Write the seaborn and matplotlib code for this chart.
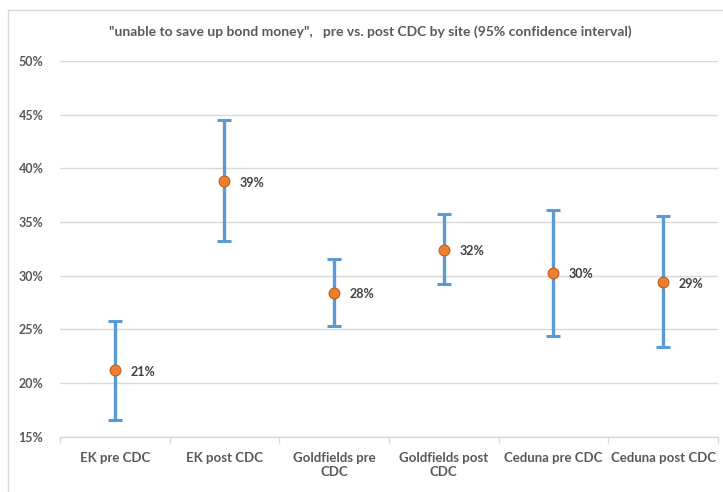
import matplotlib
matplotlib.use("Agg")
import matplotlib.pyplot as plt
from matplotlib.patches import Rectangle
from matplotlib.ticker import PercentFormatter, FixedLocator
import seaborn as sns
import pandas as pd

# Survey results by site, pre/post CDC, with 95% confidence limits
categories = ["EK pre CDC", "EK post CDC", "Goldfields pre CDC",
              "Goldfields post CDC", "Ceduna pre CDC", "Ceduna post CDC"]
tick_labels = ["EK pre CDC", "EK post CDC", "Goldfields pre\nCDC",
               "Goldfields post\nCDC", "Ceduna pre CDC", "Ceduna post CDC"]
estimate = [0.212, 0.388, 0.284, 0.324, 0.303, 0.294]
ci_low = [0.166, 0.332, 0.253, 0.292, 0.244, 0.234]
ci_high = [0.258, 0.445, 0.316, 0.358, 0.361, 0.356]

df = pd.DataFrame({"site": categories, "estimate": estimate,
                   "low": ci_low, "high": ci_high})

sns.set_theme(style="white")
plt.rcParams["font.family"] = ["Lato", "DejaVu Sans"]

text_grey = "#595959"
bar_blue = "#5B9BD5"
dot_orange = "#ED7D31"
line_grey = "#D9D9D9"

fig = plt.figure(figsize=(7.23, 4.92), dpi=100)
ax = fig.add_axes([0.083, 0.112, 0.91, 0.764])

# confidence intervals
xpos = list(range(len(categories)))
ax.errorbar(xpos, df["estimate"],
            yerr=[df["estimate"] - df["low"], df["high"] - df["estimate"]],
            fmt="none", ecolor=bar_blue, elinewidth=2.4, capsize=5,
            capthick=2.2, zorder=2)

# point estimates
sns.scatterplot(data=df, x="site", y="estimate", ax=ax, color=dot_orange,
                s=60, edgecolor="#C55A11", linewidth=0.8, zorder=3,
                legend=False)

for i, v in enumerate(estimate):
    ax.annotate(f"{v:.0%}", (i, v), xytext=(11, -1), textcoords="offset points",
                ha="left", va="center", fontsize=9, fontweight="bold",
                color="#404040")

ax.set_xlim(-0.5, len(categories) - 0.5)
ax.set_ylim(0.15, 0.50)
ax.yaxis.set_major_locator(FixedLocator([0.15 + 0.05 * k for k in range(8)]))
ax.yaxis.set_major_formatter(PercentFormatter(1.0, decimals=0))
ax.set_xticks(xpos)
ax.set_xticklabels(tick_labels)
# small marks between categories
ax.xaxis.set_minor_locator(FixedLocator([b - 0.5 for b in range(len(categories) + 1)]))
ax.set_xlabel("")
ax.set_ylabel("")

ax.grid(axis="y", color=line_grey, linewidth=1.0)
ax.set_axisbelow(True)
for side in ["top", "right", "left"]:
    ax.spines[side].set_visible(False)
ax.spines["bottom"].set_color(line_grey)
ax.spines["bottom"].set_linewidth(1.0)

ax.tick_params(axis="y", length=0, pad=12, labelsize=9, labelcolor=text_grey)
ax.tick_params(axis="x", which="major", length=0, pad=11, labelsize=9.5,
               labelcolor=text_grey)
ax.tick_params(axis="x", which="minor", length=4, width=1.0, color=line_grey,
               bottom=True)
for lbl in ax.get_xticklabels() + ax.get_yticklabels():
    lbl.set_fontweight("bold")

fig.text(0.512, 0.935, "\"unable to save up bond money\",   pre vs. post CDC by site (95% confidence interval)",
         ha="center", va="center", fontsize=10, fontweight="bold", color=text_grey)

# chart frame
fig.patches.append(Rectangle((0.011, -0.02), 1.0, 1.0, transform=fig.transFigure,
                             fill=False, edgecolor=line_grey, linewidth=1.0))

fig.savefig("out.png", dpi=100)
